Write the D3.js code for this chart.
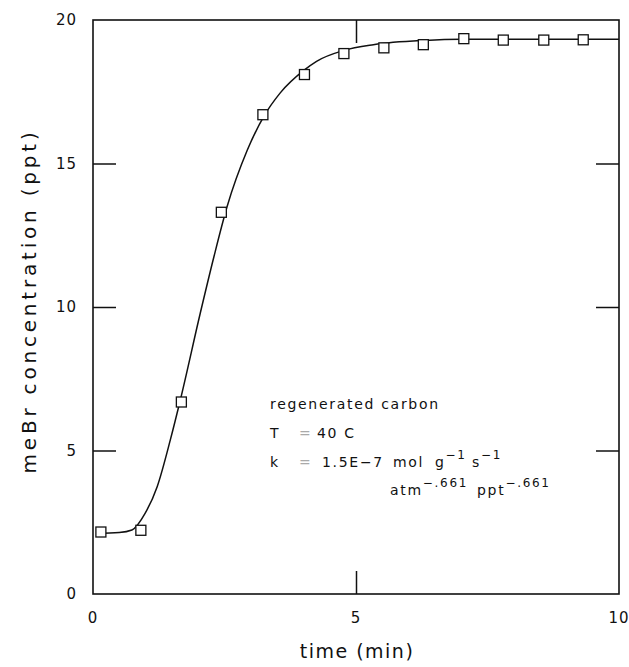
<!DOCTYPE html>
<html>
<head>
<meta charset="utf-8">
<script src="https://cdn.jsdelivr.net/npm/d3@7"></script>
<style>
  body { margin: 0; background: #fff; }
  text { font-family: "DejaVu Sans", sans-serif; fill: #111; }
</style>
</head>
<body>
<div id="chart"></div>
<script>
// measured points
const obsTime = [0.15, 0.91, 1.68, 2.44, 3.23, 4.02, 4.77, 5.53, 6.28, 7.05, 7.8, 8.57, 9.32];
const obsConc = [2.16, 2.22, 6.69, 13.3, 16.7, 18.1, 18.83, 19.03, 19.14, 19.35, 19.3, 19.3, 19.31];

// model curve
const fitTime = [0.06, 0.5, 0.74, 0.99, 1.22, 1.47, 1.66, 2.04, 2.30, 2.55, 2.93, 3.25, 3.56, 4.02, 4.25, 4.77, 5.33, 6.3, 7.0, 10];
const fitConc = [2.11, 2.14, 2.23, 2.81, 3.74, 5.37, 6.76, 9.79, 11.76, 13.5, 15.45, 16.65, 17.46, 18.26, 18.56, 18.94, 19.14, 19.29, 19.33, 19.33];

const xTicks = [0, 5, 10];
const yTicks = [0, 5, 10, 15, 20];

const width = 629;
const height = 667;
const margin = { top: 20, right: 10, bottom: 73, left: 93 };
const innerW = width - margin.left - margin.right;
const innerH = height - margin.top - margin.bottom;

const svg = d3.select("#chart")
  .append("svg")
  .attr("width", width)
  .attr("height", height);

const g = svg.append("g")
  .attr("transform", `translate(${margin.left}, ${margin.top})`);

const x = d3.scaleLinear().domain([0, 10]).range([0, innerW]);
const y = d3.scaleLinear().domain([0, 20]).range([innerH, 0]);

const tickLen = 23;

// frame
g.append("rect")
  .attr("width", innerW)
  .attr("height", innerH)
  .attr("fill", "none")
  .attr("stroke", "#111")
  .attr("stroke-width", 1.6);

// inward ticks on all four sides
const innerTicksY = yTicks.filter(d => d > 0 && d < 20);
const innerTicksX = xTicks.filter(d => d > 0 && d < 10);

g.append("g").call(d3.axisRight(y).tickValues(innerTicksY).tickSize(tickLen).tickFormat(""))
  .call(a => a.select(".domain").remove());
g.append("g").attr("transform", `translate(${innerW},0)`)
  .call(d3.axisLeft(y).tickValues(innerTicksY).tickSize(tickLen).tickFormat(""))
  .call(a => a.select(".domain").remove());
g.append("g").attr("transform", `translate(0,${innerH})`)
  .call(d3.axisTop(x).tickValues(innerTicksX).tickSize(tickLen).tickFormat(""))
  .call(a => a.select(".domain").remove());
g.append("g")
  .call(d3.axisBottom(x).tickValues(innerTicksX).tickSize(tickLen).tickFormat(""))
  .call(a => a.select(".domain").remove());

g.selectAll(".tick line").attr("stroke", "#111").attr("stroke-width", 1.5);

// tick labels
g.append("g").selectAll("text")
  .data(yTicks)
  .enter()
  .append("text")
  .attr("x", -16)
  .attr("y", d => y(d))
  .attr("dy", "0.35em")
  .attr("text-anchor", "end")
  .style("font-size", "15px")
  .style("letter-spacing", "1px")
  .text(d => d);

g.append("g").selectAll("text")
  .data(xTicks)
  .enter()
  .append("text")
  .attr("x", d => x(d))
  .attr("y", innerH + 24)
  .attr("dy", "0.35em")
  .attr("text-anchor", "middle")
  .style("font-size", "15px")
  .style("letter-spacing", "1px")
  .text(d => d);

// axis titles
g.append("text")
  .attr("x", innerW / 2 + 1)
  .attr("y", innerH + 57)
  .attr("dy", "0.35em")
  .attr("text-anchor", "middle")
  .style("font-size", "19px")
  .style("letter-spacing", "1.5px")
  .text("time (min)");

g.append("text")
  .attr("transform", `translate(${-57}, ${301 - margin.top}) rotate(-90)`)
  .attr("text-anchor", "middle")
  .style("font-size", "20px")
  .style("letter-spacing", "3.8px")
  .text("meBr concentration (ppt)");

// fitted curve
const fit = fitTime.map((t, i) => ({ t, c: fitConc[i] }));
const line = d3.line()
  .x(d => x(d.t))
  .y(d => y(d.c))
  .curve(d3.curveMonotoneX);

g.append("path")
  .datum(fit)
  .attr("d", line)
  .attr("fill", "none")
  .attr("stroke", "#111")
  .attr("stroke-width", 1.5);

// observed squares
const obs = obsTime.map((t, i) => ({ t, c: obsConc[i] }));
const sq = 10;
g.selectAll(".pt")
  .data(obs)
  .enter()
  .append("rect")
  .attr("class", "pt")
  .attr("x", d => x(d.t) - sq / 2)
  .attr("y", d => y(d.c) - sq / 2)
  .attr("width", sq)
  .attr("height", sq)
  .attr("fill", "#fff")
  .attr("stroke", "#111")
  .attr("stroke-width", 1.3);

// annotation
const note = svg.append("g").style("font-size", "14px").style("letter-spacing", "1.7px");
note.append("text").attr("x", 270).attr("y", 409).text("regenerated carbon");
note.append("text").attr("x", 270).attr("y", 438).text("T");
note.append("text").attr("x", 299).attr("y", 438).style("fill", "#aaa").text("=");
note.append("text").attr("x", 317).attr("y", 438).text("40 C");
note.append("text").attr("x", 270).attr("y", 467).text("k");
note.append("text").attr("x", 299).attr("y", 467).style("fill", "#aaa").text("=");
note.append("text").attr("x", 322).attr("y", 467).text("1.5E\u22127");
note.append("text").attr("x", 393).attr("y", 467).text("mol");

const gUnit = note.append("text").attr("x", 435).attr("y", 467);
gUnit.append("tspan").text("g");
gUnit.append("tspan").attr("dy", -8).style("font-size", "12px").text("\u22121");

const sUnit = note.append("text").attr("x", 472).attr("y", 467);
sUnit.append("tspan").text("s");
sUnit.append("tspan").attr("dy", -8).style("font-size", "12px").text("\u22121");

const atmUnit = note.append("text").attr("x", 390).attr("y", 495);
atmUnit.append("tspan").text("atm");
atmUnit.append("tspan").attr("dy", -8).style("font-size", "12px").text("\u2212.661");

const pptUnit = note.append("text").attr("x", 477).attr("y", 495);
pptUnit.append("tspan").text("ppt");
pptUnit.append("tspan").attr("dy", -8).style("font-size", "12px").text("\u2212.661");
</script>
</body>
</html>
